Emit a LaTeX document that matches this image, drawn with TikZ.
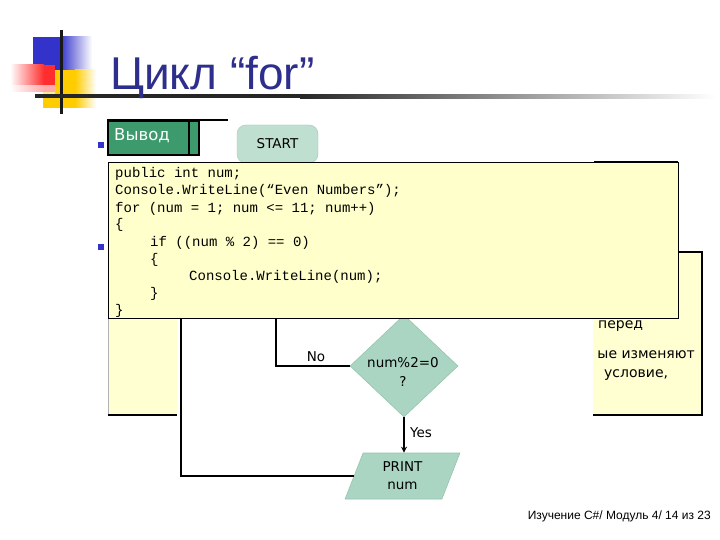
\documentclass[tikz,border=0pt]{standalone}
\usepackage{fontspec}
\setmainfont{Liberation Sans}
\newfontfamily\dejavu{DejaVu Sans}
\setmonofont{Liberation Mono}
\usetikzlibrary{shapes.geometric,arrows.meta}
\definecolor{titleblue}{RGB}{46,46,140}
\definecolor{decblue}{RGB}{51,51,204}
\definecolor{decred}{RGB}{255,45,45}
\definecolor{decyellow}{RGB}{255,204,0}
\definecolor{vgreen}{RGB}{60,154,108}
\definecolor{codeyellow}{RGB}{255,255,204}
\definecolor{boxyellow}{RGB}{255,255,210}
\definecolor{startfill}{RGB}{191,223,208}
\definecolor{startdraw}{RGB}{160,200,182}
\definecolor{flowfill}{RGB}{170,213,194}
\definecolor{flowdraw}{RGB}{150,196,176}
\tikzset{
  flowline/.style={draw=black, line width=1.4pt},
  codeline/.style={anchor=base west, inner sep=0pt, font=\ttfamily\fontsize{14}{17}\selectfont},
  flowlabel/.style={inner sep=0pt, font=\dejavu\fontsize{13.5}{19}\selectfont},
  boxtext/.style={anchor=base west, inner sep=0pt, font=\dejavu\fontsize{14}{17}\selectfont},
  bulletsq/.style={fill=decblue, draw=none},
}
\begin{document}
\begin{tikzpicture}[x=1pt,y=-1pt]
\useasboundingbox (0,0) rectangle (720,540);
\fill[white] (0,0) rectangle (720,540);

% --- decoration top-left
\fill[decblue] (33,37) rectangle (60,70);
\shade[left color=decblue, right color=white] (60,37) rectangle (92,70);
\fill[decyellow] (43,70) rectangle (75,108);
\shade[left color=decyellow, right color=white] (75,70) rectangle (96,108);
\shade[left color=white, right color=decred] (10,65) rectangle (44,92);
\fill[decred] (44,65) rectangle (55,92);
\shade[top color=decred!0, bottom color=white, opacity=0.6] (10,86) rectangle (55,94);
\draw[line width=3pt, black!90] (61,30) -- (61,114);
\fill[black!85] (35,94.5) rectangle (300,98.5);
\shade[left color=black!85, right color=white] (300,94.5) rectangle (715,98.5);

% --- title
\node[anchor=base west, inner sep=0pt, text=titleblue,
      font=\fontsize{46}{50}\selectfont] (title) at (110,90) {Цикл “for”};

% --- background yellow text box
\fill[boxyellow] (108,252) rectangle (702,415);
\draw[black!30, line width=0.8pt] (108,252) -- (108,415);
\draw[black, line width=1.3pt] (108,415) -- (702,415) -- (702,252) -- (108,252);
\node[boxtext] (t1) at (598,328) {перед};
\node[boxtext, anchor=base east] (t2) at (695,358) {ые изменяют};
\node[boxtext] (t3) at (604,377) {условие,};

% --- flowchart image area
\fill[white] (177,250) rectangle (593,480);

\node[draw=startdraw, fill=startfill, rounded corners=9pt, minimum width=81pt,
      minimum height=38pt, inner sep=0pt, font=\dejavu\fontsize{13.5}{16}\selectfont]
      (start) at (277.5,144) {START};

\node[diamond, fill=flowfill, draw=flowdraw, line width=0.6pt, minimum width=108pt,
      minimum height=102pt, inner sep=0pt] (dec) at (404,366) {};
\node[flowlabel, align=center] (dectext) at (403,372) {num\%2=0\\?};

\node[trapezium, trapezium left angle=72, trapezium right angle=108,
      trapezium stretches=true, minimum width=115pt, minimum height=46pt,
      fill=flowfill, draw=flowdraw, line width=0.6pt, inner sep=0pt, align=center,
      font=\dejavu\fontsize{13.5}{18}\selectfont] (pr) at (402.5,476) {PRINT\\num};

\coordinate (nt) at (276,316);
\coordinate (lt) at (181,316);
\draw[flowline] (dec.west) -| (nt);
\draw[flowline, line width=1.8pt] (pr.west) -| (lt);
\draw[flowline, -{Stealth[length=6pt,width=6pt]}] (dec.south) -- (dec.south |- pr.north);
\node[flowlabel] (nolab) at (316,357) {No};
\node[flowlabel] (yeslab) at (421,433) {Yes};

% --- code box
\node[draw=black, line width=1.3pt, fill=codeyellow, minimum width=570pt,
      minimum height=156pt, inner sep=0pt, anchor=north west] (code) at (108,162) {};
\draw[line width=2.6pt] (594,162) -- (678,162);
\node[codeline] (c1) at (115,178) {public int num;};
\node[codeline] (c2) at (115,195) {Console.WriteLine(“Even Numbers”);};
\node[codeline] (c3) at (115,212) {for (num = 1; num <= 11; num++)};
\node[codeline] (c4) at (115,229) {\{};
\node[codeline] (c5) at (150,246) {if ((num \% 2) == 0)};
\node[codeline] (c6) at (150,263) {\{};
\node[codeline] (c7) at (189,280) {Console.WriteLine(num);};
\node[codeline] (c8) at (150,297) {\}};
\node[codeline] (c9) at (115,314) {\}};

% --- "Вывод" header box
\draw[line width=2pt] (107,120) -- (228,120);
\node[draw=black, line width=2pt, fill=vgreen, minimum width=91pt, minimum height=34pt,
      inner sep=0pt, anchor=north west] (vyv) at (107,120) {};
\draw[line width=2pt] (189,120) -- (189,154);
\node[anchor=west, inner sep=0pt, text=white, font=\dejavu\fontsize{16.5}{18}\selectfont]
      (vyvt) at (114,136) {Вывод};

% --- bullets
\fill[bulletsq] (98,142) rectangle (104,148);
\fill[bulletsq] (98,244) rectangle (104,250);

% --- footer
\node[anchor=base east, inner sep=0pt, font=\fontsize{12}{14}\selectfont]
      (foot) at (711,519) {Изучение C\#/ Модуль 4/ 14 из 23};
\end{tikzpicture}
\end{document}
